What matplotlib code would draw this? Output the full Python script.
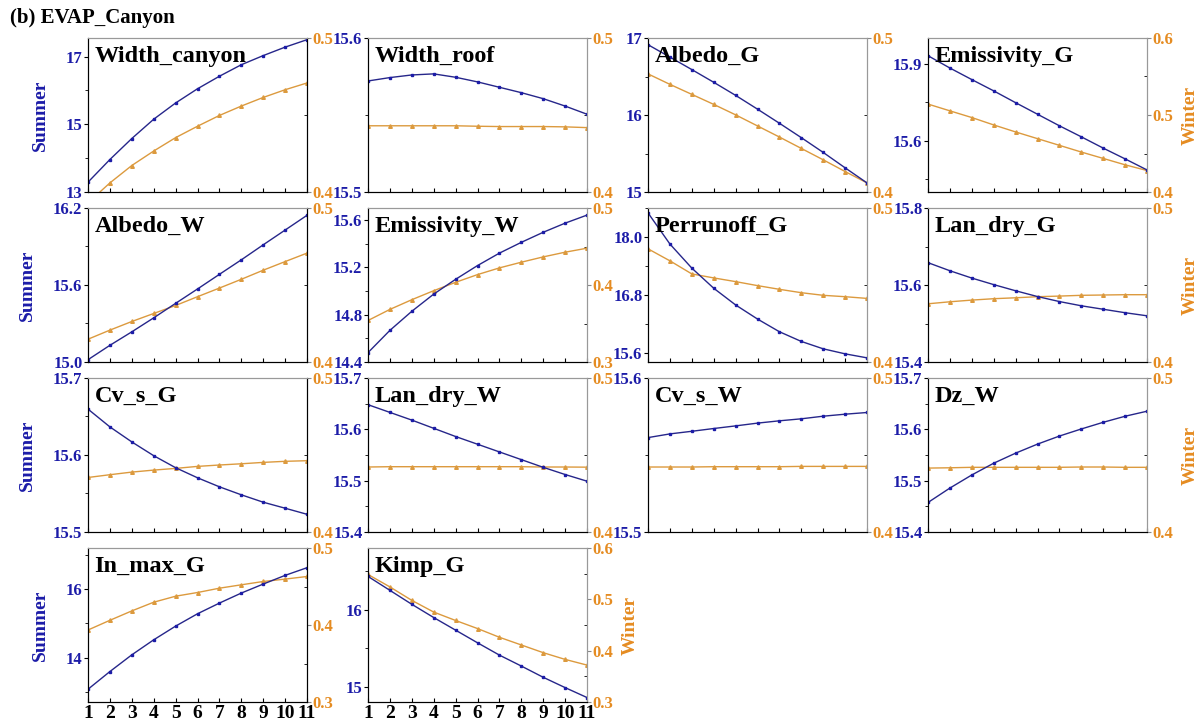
import matplotlib
matplotlib.use("Agg")
import matplotlib.pyplot as plt
import numpy as np
from matplotlib.ticker import FixedLocator, FormatStrFormatter

plt.rcParams['font.family'] = ['Liberation Serif', 'DejaVu Serif']
plt.rcParams['font.weight'] = 'bold'

x = list(range(1, 12))

names = ["Width_canyon", "Width_roof", "Albedo_G", "Emissivity_G",
         "Albedo_W", "Emissivity_W", "Perrunoff_G", "Lan_dry_G",
         "Cv_s_G", "Lan_dry_W", "Cv_s_W", "Dz_W",
         "In_max_G", "Kimp_G"]

summer = [
    [13.29, 13.96, 14.58, 15.15, 15.63, 16.05, 16.42, 16.76, 17.03, 17.28, 17.50],
    [15.5721, 15.5743, 15.5760, 15.5767, 15.5745, 15.5715, 15.5680, 15.5645, 15.5606, 15.5558, 15.5505],
    [16.913, 16.752, 16.590, 16.425, 16.255, 16.076, 15.893, 15.706, 15.514, 15.314, 15.118],
    [15.931, 15.883, 15.838, 15.794, 15.748, 15.703, 15.658, 15.615, 15.571, 15.529, 15.486],
    [15.018, 15.130, 15.235, 15.344, 15.457, 15.569, 15.683, 15.796, 15.913, 16.028, 16.143],
    [14.479, 14.667, 14.828, 14.973, 15.098, 15.214, 15.319, 15.410, 15.495, 15.572, 15.640],
    [18.499, 17.854, 17.355, 16.938, 16.592, 16.300, 16.037, 15.836, 15.683, 15.579, 15.496],
    [15.658, 15.637, 15.618, 15.601, 15.585, 15.570, 15.557, 15.546, 15.537, 15.528, 15.520],
    [15.6596, 15.6365, 15.6170, 15.5991, 15.5835, 15.5704, 15.5587, 15.5483, 15.5387, 15.5309, 15.5230],
    [15.648, 15.633, 15.618, 15.602, 15.586, 15.571, 15.556, 15.541, 15.526, 15.512, 15.499],
    [15.5613, 15.5637, 15.5654, 15.5672, 15.5689, 15.5707, 15.5722, 15.5735, 15.5752, 15.5765, 15.5776],
    [15.4575, 15.4856, 15.5111, 15.5340, 15.5536, 15.5712, 15.5869, 15.6007, 15.6137, 15.6255, 15.6353],
    [13.073, 13.590, 14.078, 14.517, 14.917, 15.278, 15.590, 15.883, 16.146, 16.400, 16.624],
    [16.431, 16.250, 16.069, 15.897, 15.733, 15.569, 15.409, 15.267, 15.121, 14.987, 14.858],
]

winter = [
    [0.393, 0.4059, 0.4172, 0.4266, 0.4353, 0.4427, 0.4497, 0.4558, 0.4614, 0.4664, 0.4708],
    [0.4430, 0.4430, 0.4430, 0.4430, 0.4430, 0.4427, 0.4425, 0.4425, 0.4425, 0.4423, 0.4418],
    [0.4767, 0.4699, 0.4634, 0.4569, 0.4501, 0.4429, 0.4357, 0.4283, 0.4209, 0.4133, 0.4059],
    [0.5142, 0.5054, 0.4967, 0.4871, 0.4780, 0.4693, 0.4606, 0.4519, 0.4436, 0.4353, 0.4279],
    [0.4148, 0.4207, 0.4263, 0.4315, 0.4367, 0.4424, 0.4480, 0.4537, 0.4596, 0.4652, 0.4707],
    [0.3539, 0.3683, 0.3809, 0.3926, 0.4035, 0.4135, 0.4222, 0.4296, 0.4365, 0.4426, 0.4478],
    [0.4735, 0.4657, 0.4572, 0.4546, 0.4522, 0.4496, 0.4472, 0.4450, 0.4433, 0.4424, 0.4413],
    [0.4378, 0.4391, 0.4402, 0.4411, 0.4417, 0.4424, 0.4428, 0.4433, 0.4435, 0.4437, 0.4437],
    [0.4354, 0.4372, 0.4389, 0.4402, 0.4413, 0.4426, 0.4435, 0.4443, 0.4452, 0.4459, 0.4463],
    [0.4422, 0.4424, 0.4424, 0.4424, 0.4424, 0.4424, 0.4424, 0.4424, 0.4422, 0.4422, 0.4421],
    [0.4422, 0.4422, 0.4422, 0.4424, 0.4424, 0.4424, 0.4424, 0.4426, 0.4426, 0.4426, 0.4426],
    [0.4415, 0.4417, 0.4420, 0.4420, 0.4420, 0.4420, 0.4420, 0.4422, 0.4422, 0.4420, 0.4420],
    [0.3935, 0.4061, 0.4183, 0.4296, 0.4374, 0.4422, 0.4478, 0.4522, 0.4565, 0.4596, 0.4630],
    [0.5484, 0.5242, 0.4980, 0.4752, 0.4588, 0.4431, 0.4261, 0.4111, 0.3961, 0.3830, 0.3719],
]

# left axis limits, labelled ticks and number format
summer_lim = [(13.0, 17.55), (15.5, 15.6), (15.0, 17.0), (15.4, 16.0),
              (15.0, 16.2), (14.4, 15.7), (15.41, 18.6), (15.4, 15.8),
              (15.5, 15.7), (15.4, 15.7), (15.5, 15.6), (15.4, 15.7),
              (12.7, 17.2), (14.8, 16.8)]
summer_ticks = [[13, 15, 17], [15.5, 15.6], [15, 16, 17], [15.6, 15.9],
                [15.0, 15.6, 16.2], [14.4, 14.8, 15.2, 15.6], [15.6, 16.8, 18.0], [15.4, 15.6, 15.8],
                [15.5, 15.6, 15.7], [15.4, 15.5, 15.6, 15.7], [15.5, 15.6], [15.4, 15.5, 15.6, 15.7],
                [14, 16], [15, 16]]
summer_fmt = ["%g", "%.1f", "%g", "%.1f", "%.1f", "%.1f", "%.1f", "%.1f",
              "%.1f", "%.1f", "%.1f", "%.1f", "%g", "%g"]
winter_lim = [(0.4, 0.5), (0.4, 0.5), (0.4, 0.5), (0.4, 0.6),
              (0.4, 0.5), (0.3, 0.5), (0.4, 0.5), (0.4, 0.5),
              (0.4, 0.5), (0.4, 0.5), (0.4, 0.5), (0.4, 0.5),
              (0.3, 0.5), (0.3, 0.6)]

BLUE = "#1c1ca8"
LINE_B = "#26268a"
ORANGE = "#e58c22"
LINE_O = "#dc9a3e"

fig = plt.figure(figsize=(12.02, 7.24), dpi=100)
W, H = 1202.0, 724.0
lefts = [88, 368, 648, 928]
tops = [38, 208, 378, 548]
aw, ah = 219, 154

fig.text(10 / W, 1 - 18 / H, "(b) EVAP_Canyon", fontsize=15, fontweight="bold", va="center", ha="left")


def ticks_with_minor(lim, major):
    step = major[1] - major[0]
    allt = np.arange(major[0] - 2 * step, major[-1] + 2 * step, step / 2.0)
    allt = [t for t in allt if lim[0] - 1e-9 <= t <= lim[1] + 1e-9]
    minor = [t for t in allt if min(abs(t - m) for m in major) > 1e-6]
    return minor


for i, name in enumerate(names):
    r, c = divmod(i, 4)
    ax = fig.add_axes([lefts[c] / W, 1 - (tops[r] + ah) / H, aw / W, ah / H])
    ax2 = ax.twinx()
    ax.set_zorder(ax2.get_zorder() + 1)
    ax.patch.set_visible(False)

    ax2.plot(x, winter[i], color=LINE_O, lw=1.0, marker="^", ms=2.6, mfc=LINE_O, mec=LINE_O)
    ax.plot(x, summer[i], color=LINE_B, lw=1.0, marker="s", ms=2.0, mfc=BLUE, mec=BLUE)

    ax.set_ylim(*summer_lim[i])
    ax.yaxis.set_major_locator(FixedLocator(summer_ticks[i]))
    ax.yaxis.set_minor_locator(FixedLocator(ticks_with_minor(summer_lim[i], summer_ticks[i])))
    ax.yaxis.set_major_formatter(FormatStrFormatter(summer_fmt[i]))

    wlo, whi = winter_lim[i]
    ax2.set_ylim(wlo, whi)
    wt = list(np.round(np.arange(wlo, whi + 0.001, 0.1), 2))
    ax2.yaxis.set_major_locator(FixedLocator(wt))
    ax2.yaxis.set_minor_locator(FixedLocator(ticks_with_minor((wlo, whi), wt)))
    ax2.yaxis.set_major_formatter(FormatStrFormatter("%.1f"))

    ax.set_xlim(1, 11)
    ax.set_xticks(x)
    ax.tick_params(axis="x", direction="in", length=3, width=0.8, labelsize=14, pad=2,
                   labelbottom=(i >= 12))
    ax.tick_params(axis="y", which="major", direction="out", length=3, width=0.8,
                   colors="black", labelcolor=BLUE, labelsize=12, pad=1)
    ax.tick_params(axis="y", which="minor", direction="out", length=2, width=0.6)
    ax2.tick_params(axis="y", which="major", direction="out", length=3, width=0.8,
                    colors="#888888", labelcolor=ORANGE, labelsize=12, pad=1)
    ax2.tick_params(axis="y", which="minor", direction="in", length=2, width=0.6)
    for lab in ax.get_yticklabels() + ax2.get_yticklabels() + ax.get_xticklabels():
        lab.set_fontweight("bold")

    for a in (ax, ax2):
        a.spines["top"].set_color("#999999")
        a.spines["right"].set_color("black" if c == 0 else "#999999")
        a.spines["left"].set_color("black")
        a.spines["bottom"].set_color("black")

    ax.text(0.03, 0.88, name, transform=ax.transAxes, fontsize=17.5, fontweight="bold",
            va="center", ha="left", color="black")

    if c == 0:
        ax.set_ylabel("Summer", color=BLUE, fontsize=14, fontweight="bold", labelpad=12)
    if c == 3 or i == 13:
        ax2.set_ylabel("Winter", color=ORANGE, fontsize=14, fontweight="bold", labelpad=6)

fig.savefig("out.png", dpi=100)
